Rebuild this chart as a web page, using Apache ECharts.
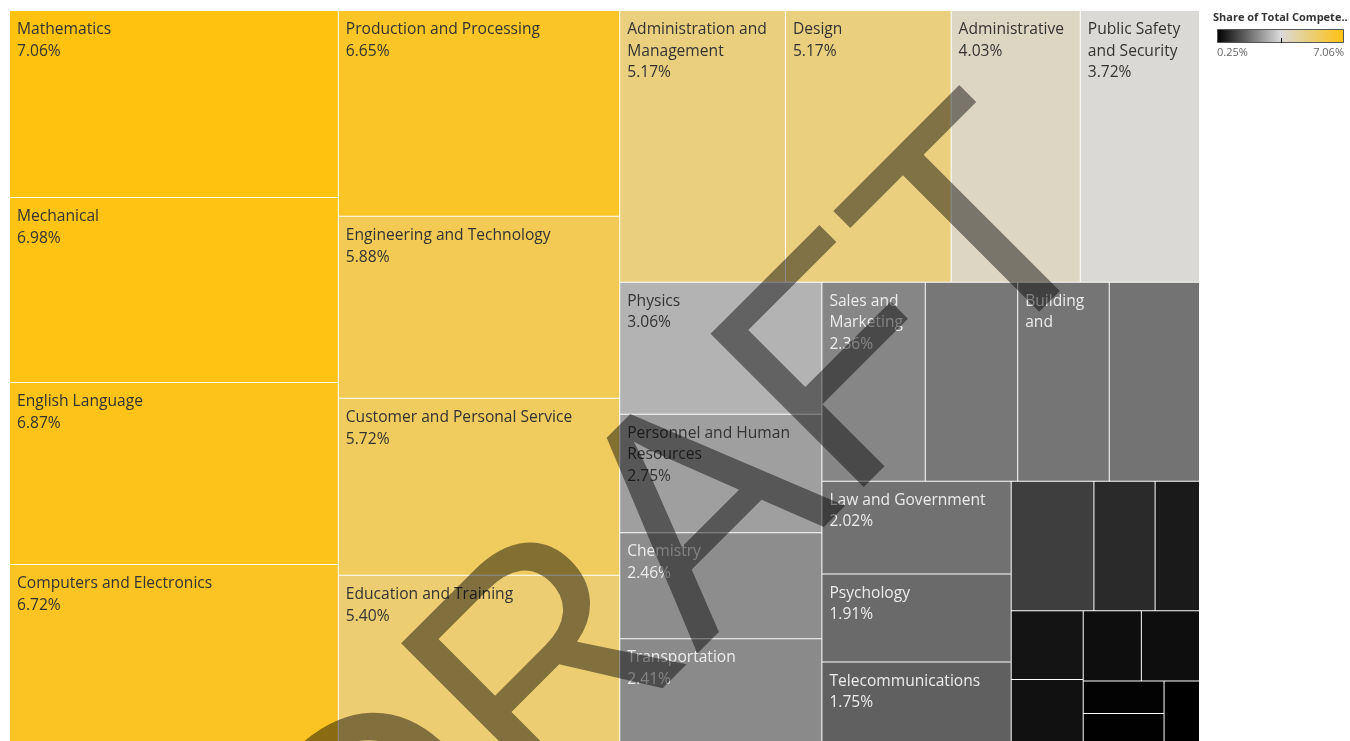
<!DOCTYPE html>
<html>
<head>
<meta charset="utf-8">
<script src="https://cdn.jsdelivr.net/npm/echarts@6/dist/echarts.min.js"></script>
<style>
  html, body { margin: 0; padding: 0; background: #fff; }
  #main { width: 1350px; height: 741px; }
</style>
</head>
<body>
<div id="main"></div>
<script>
// Knowledge areas, largest share first (same order Tableau used)
const areas = [
  'Mathematics', 'Mechanical', 'English Language', 'Computers and Electronics',
  'Production and Processing', 'Engineering and Technology', 'Customer and Personal Service', 'Education and Training',
  'Administration and Management', 'Design', 'Administrative', 'Public Safety and Security',
  'Physics', 'Personnel and Human Resources', 'Chemistry', 'Transportation',
  'Sales and Marketing', 'Economics and Accounting', 'Building and Construction', 'Communications and Media',
  'Law and Government', 'Psychology', 'Telecommunications',
  'Medicine and Dentistry', 'Biology', 'Geography', 'Food Production', 'Therapy and Counseling',
  'Sociology and Anthropology', 'Foreign Language', 'Fine Arts', 'History and Archeology', 'Philosophy and Theology'
];
const shares = [
  7.06, 6.98, 6.87, 6.72,
  6.65, 5.88, 5.72, 5.40,
  5.17, 5.17, 4.03, 3.72,
  3.06, 2.75, 2.46, 2.41,
  2.36, 2.11, 2.09, 2.06,
  2.02, 1.91, 1.75,
  1.23, 0.91, 0.66, 0.57, 0.52,
  0.47, 0.47, 0.30, 0.27, 0.25
];

// labels Tableau could not fit
const hiddenLabels = [
  'Economics and Accounting', 'Communications and Media',
  'Medicine and Dentistry', 'Biology', 'Geography', 'Food Production', 'Therapy and Counseling',
  'Sociology and Anthropology', 'Foreign Language', 'Fine Arts', 'History and Archeology', 'Philosophy and Theology'
];
const cutLabels = { 'Building and Construction': 'Building\nand' };

// colour legend
const legendTitle = 'Share of Total Compete..';
const scaleColors = ['#000000', '#d9d9d9', '#ffc20e'];
const scaleMin = 0.25;
const scaleMax = 7.06;
const scaleLabels = ['0.25%', '7.06%'];

const FONT = 'Open Sans';

const data = areas.map((name, i) => {
  const item = { name: name, value: shares[i] };
  if (hiddenLabels.indexOf(name) >= 0) {
    item.label = { show: false };
  } else {
    item.label = { color: shares[i] < 2.6 ? '#ececec' : '#333333' };
    if (cutLabels[name]) item.label.formatter = cutLabels[name];
  }
  return item;
});

const chart = echarts.init(document.getElementById('main'));

const option = {
  animation: false,
  backgroundColor: '#ffffff',
  graphic: [
    // legend
    {
      type: 'text', x: 1213, y: 18, silent: true,
      style: { text: legendTitle, fontFamily: FONT, fontSize: 11, fontWeight: 'bold', fill: '#333333', align: 'left', verticalAlign: 'middle' }
    },
    {
      type: 'rect', silent: true,
      shape: { x: 1217.5, y: 29.5, width: 126, height: 13 },
      style: {
        fill: new echarts.graphic.LinearGradient(0, 0, 1, 0,
          scaleColors.map((c, i) => ({ offset: i / (scaleColors.length - 1), color: c }))),
        stroke: '#555555', lineWidth: 1
      }
    },
    {
      type: 'line', silent: true,
      shape: { x1: 1281.5, y1: 38, x2: 1281.5, y2: 43 },
      style: { stroke: '#000000', lineWidth: 1 }
    },
    {
      type: 'text', x: 1217, y: 53, silent: true,
      style: { text: scaleLabels[0], fontFamily: FONT, fontSize: 11, fill: '#666666', align: 'left', verticalAlign: 'middle' }
    },
    {
      type: 'text', x: 1344, y: 53, silent: true,
      style: { text: scaleLabels[1], fontFamily: FONT, fontSize: 11, fill: '#666666', align: 'right', verticalAlign: 'middle' }
    },
    // watermark
    {
      type: 'text', x: 685, y: 543, rotation: Math.PI / 4, z: 100, silent: true,
      style: {
        text: 'DRAFT', fontFamily: 'Liberation Sans', fontSize: 315,
        fill: 'rgba(0,0,0,0.45)', align: 'center', verticalAlign: 'middle'
      }
    }
  ],
  series: [{
    type: 'treemap',
    left: 10, top: 11, width: 1189, height: 731,
    roam: false,
    nodeClick: false,
    breadcrumb: { show: false },
    sort: false,
    squareRatio: 1.641,
    colorMappingBy: 'value',
    visualMin: scaleMin,
    visualMax: scaleMax,
    color: scaleColors,
    levels: [{
      color: scaleColors,
      colorMappingBy: 'value',
      visualMin: scaleMin,
      visualMax: scaleMax,
      itemStyle: { borderWidth: 0, gapWidth: 1, borderColor: '#ffffff' }
    }, {
      itemStyle: { borderWidth: 0, gapWidth: 0 }
    }],
    label: {
      show: true,
      position: 'insideTopLeft',
      distance: 0,
      align: 'left',
      verticalAlign: 'top',
      padding: [8, 7, 0, 7],
      fontFamily: FONT,
      fontSize: 15.6,
      lineHeight: 21.5,
      overflow: 'break',
      formatter: p => p.name + '\n' + Number(p.value).toFixed(2) + '%'
    },
    emphasis: { disabled: true },
    data: data
  }]
};

chart.setOption(option);
</script>
</body>
</html>
